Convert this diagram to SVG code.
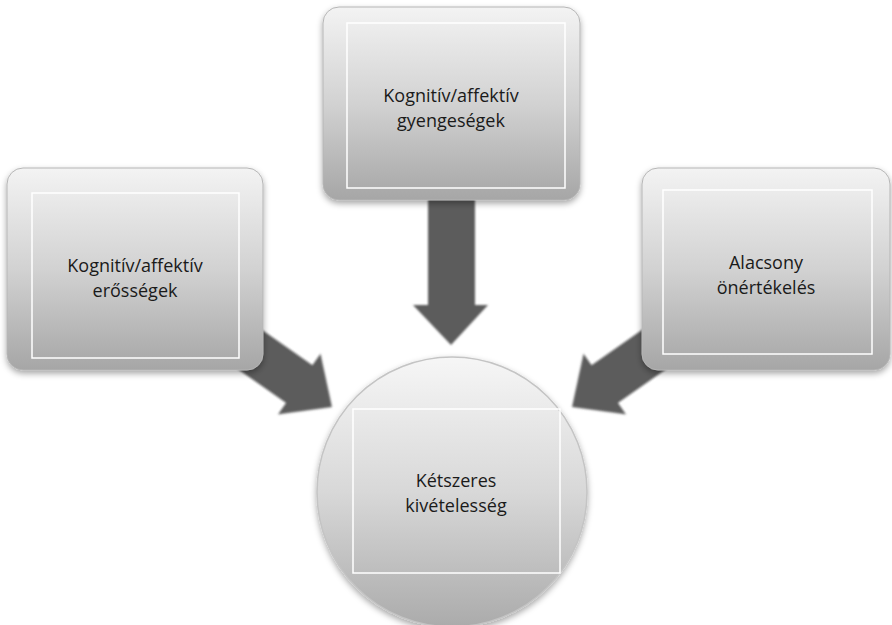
<svg xmlns="http://www.w3.org/2000/svg" width="892" height="625" viewBox="0 0 892 625">
  <defs>
    <linearGradient id="boxGrad" x1="0" y1="0" x2="0" y2="1">
      <stop offset="0" stop-color="#f3f3f3"/>
      <stop offset="0.5" stop-color="#d2d2d2"/>
      <stop offset="1" stop-color="#a6a6a6"/>
    </linearGradient>
    <linearGradient id="circGrad" x1="0" y1="0" x2="0" y2="1">
      <stop offset="0" stop-color="#f6f6f6"/>
      <stop offset="0.5" stop-color="#d8d8d8"/>
      <stop offset="1" stop-color="#ababab"/>
    </linearGradient>
    <filter id="shadow" x="-10%" y="-10%" width="120%" height="125%">
      <feDropShadow dx="0" dy="3" stdDeviation="3" flood-color="#000" flood-opacity="0.35"/>
    </filter>
    <filter id="soft" x="-20%" y="-20%" width="140%" height="140%">
      <feGaussianBlur stdDeviation="1.2"/>
    </filter>
  </defs>
  <style>
    .box { fill: url(#boxGrad); stroke: #b5b5b5; stroke-width: 1; filter: url(#shadow); }
    .circ { fill: url(#circGrad); stroke: #c4c4c4; stroke-width: 1.5; filter: url(#shadow); }
    .inner { fill: none; stroke: #ffffff; stroke-width: 1.5; }
    .arrow { fill: #5b5b5b; filter: url(#soft); }
    .label { font-family: "Open Sans", "Noto Sans", "Liberation Sans", sans-serif; font-size: 18px; fill: #1a1a1a; text-anchor: middle; }
  </style>

  <g id="connectors">
    <path class="arrow" d="M428,190 L475,190 L475,305 L488,305 L451,345 L413,305 L428,305 Z"/>
    <g transform="translate(332,407) rotate(35)">
      <path class="arrow" d="M-160,-23 L-40,-23 L-40,-37 L0,0 L-40,37 L-40,23 L-160,23 Z"/>
    </g>
    <g transform="translate(572,407) rotate(145)">
      <path class="arrow" d="M-160,-23 L-40,-23 L-40,-37 L0,0 L-40,37 L-40,23 L-160,23 Z"/>
    </g>
  </g>

  <g id="node-top">
    <rect class="box" x="323" y="7" width="257" height="193" rx="16"/>
    <rect class="inner" x="347" y="23" width="218" height="165"/>
    <text class="label" x="451" y="102">Kognitív/affektív<tspan x="451" dy="24.5">gyengeségek</tspan></text>
  </g>

  <g id="node-left">
    <rect class="box" x="7" y="168" width="256" height="202" rx="16"/>
    <rect class="inner" x="32" y="193" width="207" height="165"/>
    <text class="label" x="135" y="272">Kognitív/affektív<tspan x="135" dy="24.5">erősségek</tspan></text>
  </g>

  <g id="node-right">
    <rect class="box" x="642" y="168" width="248" height="202" rx="16"/>
    <rect class="inner" x="663" y="190" width="209" height="164"/>
    <text class="label" x="766" y="269">Alacsony<tspan x="766" dy="24.5">önértékelés</tspan></text>
  </g>

  <g id="node-center">
    <circle class="circ" cx="452" cy="492" r="135"/>
    <rect class="inner" x="353" y="409" width="207" height="164"/>
    <text class="label" x="456" y="487">Kétszeres<tspan x="456" dy="24.5">kivételesség</tspan></text>
  </g>
</svg>
